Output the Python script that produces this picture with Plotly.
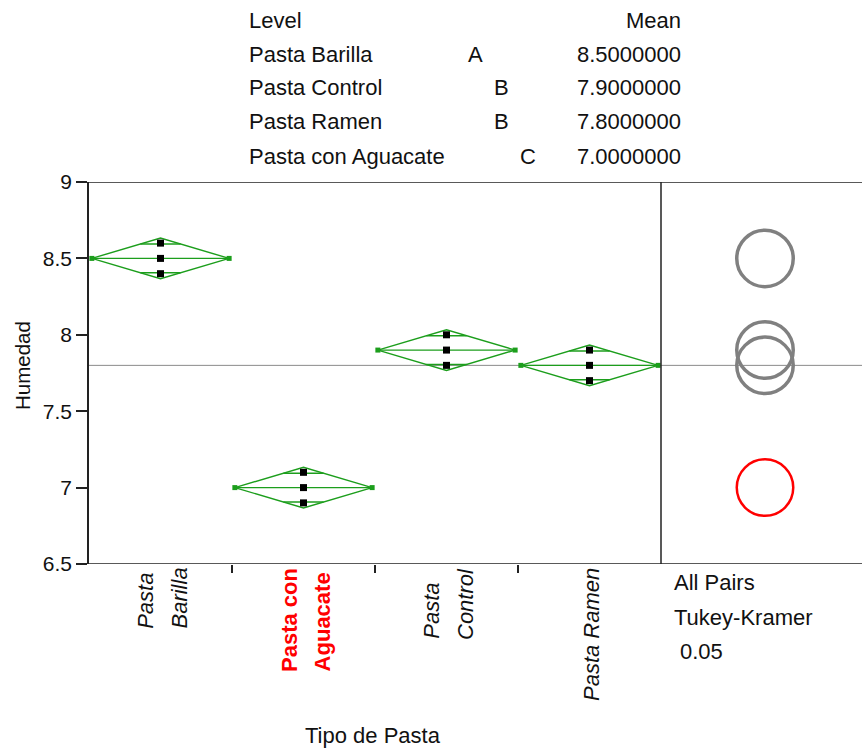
import numpy as np
import plotly.graph_objects as go

# Humedad measurements per pasta type (three replicates each)
levels = ["Pasta Barilla", "Pasta con Aguacate", "Pasta Control", "Pasta Ramen"]
label_lines = [["Pasta", "Barilla"], ["Pasta con", "Aguacate"], ["Pasta", "Control"], ["Pasta Ramen"]]
barilla = [8.6, 8.5, 8.4]
aguacate = [7.1, 7.0, 6.9]
control = [8.0, 7.9, 7.8]
ramen = [7.9, 7.8, 7.7]
groups = [barilla, aguacate, control, ramen]

# Connecting-letters report (levels sorted by mean)
report_levels = ["Pasta Barilla", "Pasta Control", "Pasta Ramen", "Pasta con Aguacate"]
report_letters = ["A", "B", "B", "C"]

y_ticks = [6.5, 7, 7.5, 8, 8.5, 9]
highlight = "Pasta con Aguacate"

# Critical values: t(0.975, df=8) and studentized range q(0.05, k=4, df=8)
T_CRIT = 2.306
Q_CRIT = 4.529

means = [float(np.mean(g)) for g in groups]
n = [len(g) for g in groups]
df_err = sum(n) - len(groups)
mse = sum(((np.array(g) - np.mean(g)) ** 2).sum() for g in groups) / df_err
grand_mean = float(np.mean(np.concatenate(groups)))

# Canvas geometry
W, H = 862, 749
ML, MR, MT, MB = 89, 0, 182, 185
PW, PH = W - ML - MR, H - MT - MB
split = (661 - ML) / PW
y_lo, y_hi = 6.5, 9.0
units_px = PH / (y_hi - y_lo)
x2_range = (PW * (1 - split)) / units_px


def px(x):
    return (x - ML) / PW


def py(y):
    return (H - MB - y) / PH


# approximate Arial advance widths (em/1000), used to left-align stacked rotated labels
ARIAL_W = {"P": 667, "a": 556, "s": 500, "t": 278, " ": 278, "B": 667, "r": 333,
           "i": 222, "l": 222, "c": 500, "o": 556, "n": 556, "A": 667, "g": 556,
           "u": 556, "e": 556, "C": 722, "R": 722, "m": 833}


def text_len(t, size):
    return sum(ARIAL_W.get(ch, 556) for ch in t) / 1000 * size


GREEN = "#1c9e1c"
FONT = "Liberation Sans, Arial, sans-serif"
TXT = "#111"
FS = 22

fig = go.Figure()

half_w = 0.48
for i, (g, m, k) in enumerate(zip(groups, means, n)):
    se = np.sqrt(mse / k)
    ci = T_CRIT * se
    # means diamond
    fig.add_trace(go.Scatter(
        x=[i - half_w, i, i + half_w, i, i - half_w],
        y=[m, m + ci, m, m - ci, m],
        mode="lines", line=dict(color=GREEN, width=1.4),
        hoverinfo="skip", showlegend=False))
    fig.add_trace(go.Scatter(
        x=[i - half_w, i + half_w], y=[m, m], mode="lines+markers",
        line=dict(color=GREEN, width=1.4),
        marker=dict(symbol="square", size=5, color=GREEN),
        hoverinfo="skip", showlegend=False))
    # overlap marks
    ow = half_w * (1 - 1 / np.sqrt(2))
    for s in (1, -1):
        yo = m + s * ci / np.sqrt(2)
        fig.add_trace(go.Scatter(
            x=[i - ow, i + ow], y=[yo, yo], mode="lines",
            line=dict(color=GREEN, width=1.4),
            hoverinfo="skip", showlegend=False))
    # observations
    fig.add_trace(go.Scatter(
        x=[i] * len(g), y=g, mode="markers",
        marker=dict(symbol="square", size=7, color="black"),
        hoverinfo="skip", showlegend=False))

# invisible anchor for the comparison-circle axis
fig.add_trace(go.Scatter(x=[0], y=[grand_mean], xaxis="x2", yaxis="y",
                         mode="markers", marker=dict(opacity=0),
                         hoverinfo="skip", showlegend=False))

shapes = []
# grand mean reference line
shapes.append(dict(type="line", xref="paper", yref="y", x0=0, x1=1,
                   y0=grand_mean, y1=grand_mean,
                   line=dict(color="#8a8a8a", width=1), layer="below"))
# frame lines
shapes.append(dict(type="line", xref="paper", yref="y", x0=0, x1=1, y0=y_hi, y1=y_hi,
                   line=dict(color="#222", width=1.5)))
shapes.append(dict(type="line", xref="paper", yref="y", x0=0, x1=1, y0=y_lo, y1=y_lo,
                   line=dict(color="#222", width=1.5)))
shapes.append(dict(type="line", xref="paper", yref="y", x0=split, x1=split, y0=y_lo, y1=y_hi,
                   line=dict(color="#222", width=1.5)))

# Tukey-Kramer comparison circles
cx = (765 - 661) / units_px
order = sorted(range(len(levels)), key=lambda j: levels[j] == highlight)
for j in order:
    r = Q_CRIT / np.sqrt(2) * np.sqrt(mse / n[j])
    red = levels[j] == highlight
    shapes.append(dict(type="circle", xref="x2", yref="y",
                       x0=cx - r, x1=cx + r, y0=means[j] - r, y1=means[j] + r,
                       line=dict(color="#ff0000" if red else "#808080",
                                 width=2.5 if red else 3.5)))

ann = []
# rotated category labels, lines left-aligned (start at the same baseline end)
line_gap = 33
for i, lines in enumerate(label_lines):
    red = levels[i] == highlight
    nl = len(lines)
    longest = max(text_len(t, FS) for t in lines)
    for j, t in enumerate(lines):
        ann.append(dict(
            x=i, y=0, xref="x", yref="paper", text=t, textangle=-90,
            showarrow=False, xanchor="center", yanchor="top",
            xshift=2 + (j - (nl - 1) / 2) * line_gap,
            yshift=-2 - (longest - text_len(t, FS)),
            font=dict(family=FONT, size=FS, color="#ff0000" if red else TXT,
                      weight="bold" if red else "normal",
                      style="normal" if red else "italic")))

# connecting-letters report above the plot
row_y = [20, 55, 88, 122, 156]
ann.append(dict(x=px(247), y=py(row_y[0]), xref="paper", yref="paper", text="Level",
                showarrow=False, xanchor="left", yanchor="middle",
                font=dict(family=FONT, size=FS, color=TXT)))
ann.append(dict(x=px(683), y=py(row_y[0]), xref="paper", yref="paper", text="Mean",
                showarrow=False, xanchor="right", yanchor="middle",
                font=dict(family=FONT, size=FS, color=TXT)))
for r_i, (lv, let) in enumerate(zip(report_levels, report_letters)):
    yy = py(row_y[r_i + 1])
    m = means[levels.index(lv)]
    col = ord(let) - ord("A")
    ann.append(dict(x=px(247), y=yy, xref="paper", yref="paper", text=lv,
                    showarrow=False, xanchor="left", yanchor="middle",
                    font=dict(family=FONT, size=FS, color=TXT)))
    ann.append(dict(x=px(475 + 26.5 * col), y=yy, xref="paper", yref="paper", text=let,
                    showarrow=False, xanchor="center", yanchor="middle",
                    font=dict(family=FONT, size=FS, color=TXT)))
    ann.append(dict(x=px(683), y=yy, xref="paper", yref="paper", text=f"{m:.7f}",
                    showarrow=False, xanchor="right", yanchor="middle",
                    font=dict(family=FONT, size=FS, color=TXT)))

# comparison-circle legend text
for t, xx, yy in [("All Pairs", 672, 582), ("Tukey-Kramer", 672, 617), ("0.05", 678, 651)]:
    ann.append(dict(x=px(xx), y=py(yy), xref="paper", yref="paper", text=t,
                    showarrow=False, xanchor="left", yanchor="middle",
                    font=dict(family=FONT, size=FS, color=TXT)))

# axis titles
ann.append(dict(x=px(22), y=py(366), xref="paper", yref="paper", text="Humedad",
                textangle=-90, showarrow=False, xanchor="center", yanchor="middle",
                font=dict(family=FONT, size=20.5, color=TXT)))
ann.append(dict(x=px(373), y=py(735), xref="paper", yref="paper", text="Tipo de Pasta",
                showarrow=False, xanchor="center", yanchor="middle",
                font=dict(family=FONT, size=FS, color=TXT)))

fig.update_layout(
    width=W, height=H,
    margin=dict(l=ML, r=MR, t=MT, b=MB, pad=0),
    paper_bgcolor="white", plot_bgcolor="white",
    showlegend=False,
    xaxis=dict(domain=[0, split], range=[-0.5, len(levels) - 0.5],
               tickvals=[i + 0.5 for i in range(len(levels) - 1)],
               showticklabels=False, ticks="outside", ticklen=8, tickwidth=1.5,
               tickcolor="#222", showgrid=False, zeroline=False, showline=False,
               fixedrange=True),
    xaxis2=dict(domain=[split, 1], range=[0, x2_range], anchor="y",
                showticklabels=False, ticks="", showgrid=False, zeroline=False,
                showline=False, fixedrange=True),
    yaxis=dict(range=[y_lo, y_hi], tickvals=y_ticks,
               ticktext=[f"{v:g}" for v in y_ticks],
               ticks="outside", ticklen=11, tickwidth=1.5, tickcolor="#222",
               showline=True, linecolor="#222", linewidth=1.5,
               showgrid=False, zeroline=False,
               tickfont=dict(family=FONT, size=21, color=TXT),
               fixedrange=True),
    shapes=shapes,
    annotations=ann,
)

fig.write_html("out.html")
